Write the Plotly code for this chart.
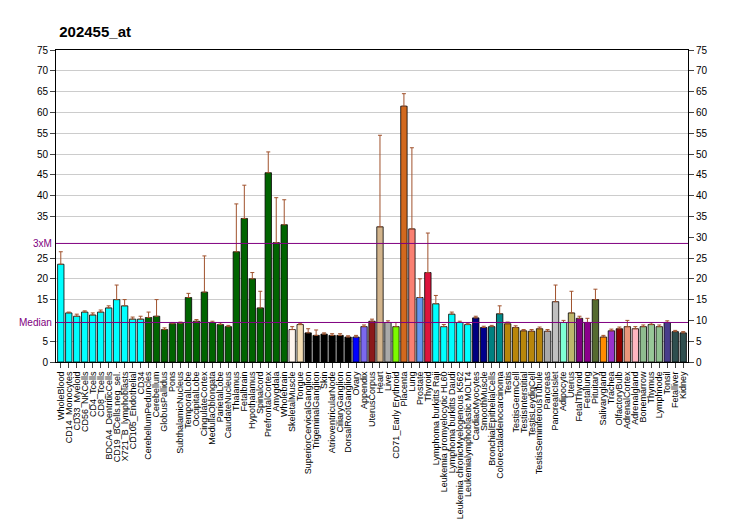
import plotly.graph_objects as go

labels = ["WholeBlood","CD14_Monocytes","CD33_Myeloid","CD56_NKCells","CD4_Tcells","CD8_Tcells",
"BDCA4_DentriticCells","CD19_BCells.neg_sel.","X721_B_lymphoblasts","CD105_Endothelial","CD34",
"CerebellumPeduncles","Cerebellum","GlobusPallidus","Pons","SubthalamicNucleus","TemporalLobe",
"OccipitalLobe","CingulateCortex","MedullaOblongata","ParietalLobe","CaudateNucleus","Thalamus",
"Fetalbrain","Hypothalamus","Spinalcord","PrefrontalCortex","Amygdala","Wholebrain","SkeletalMuscle",
"Tongue","SuperiorCervicalGanglion","TrigeminalGanglion","Skin","AtrioventricularNode","CiliaryGanglion",
"DorsalRootGanglion","Ovary","Appendix","UterusCorpus","Heart","Liver","CD71_Early Erythroid","Placenta",
"Lung","Prostate","Thyroid","Lymphoma burkitts Raji","Leukemia promyelocytic HL60",
"Lymphoma burkitts Daudi","Leukemia chronicMyelogenous K562","Leukemialymphoblastic MOLT4",
"CardiacMyocytes","SmoothMuscle","BronchialEpithelialCells","Colorectaladenocarcinoma","Testis",
"TestisGermCell","TestisInterstitial","TestisLeydigCell","TestisSeminiferousTubule","Pancreas",
"PancreaticIslet","Adipocyte","Uterus","FetalThyroid","Fetallung","Pituitary","Salivarygland","Trachea",
"OlfactoryBulb","AdrenalCortex","Adrenalgland","Bonemarrow","Thymus","Lymphnode","Tonsil","Fetalliver","Kidney"]

values = [23.5,11.8,11,12,11.3,12,13,15,13.5,10.3,10.3,
10.7,11,7.8,9.2,9.3,15.5,9.8,16.8,9.5,9,8.5,26.5,34.5,20,13,45.5,28.7,33,
7.8,9,7,6.4,6.7,6.4,6.4,6,6,8.5,9.8,32.5,9.5,8.5,61.5,32,15.5,21.5,
14,8.5,11.5,9.5,9,10.6,8.3,8.5,11.6,9.2,8.3,7.5,7.4,8,7.4,14.5,9.5,11.8,
10.5,9.5,15,6,7.5,8,8.5,8,8.5,9,8.5,9.5,7.3,7]

err_top = [26.5,12,11.5,12.3,11.8,12.5,13.5,18.5,15,10.8,11,
12,15,8.2,9.5,9.6,16.5,10.2,25.5,9.8,9.4,8.8,38,42.5,21.5,17,50.5,39.5,39,
8.5,9.3,8,7.7,7,6.8,6.8,6.3,6.4,8.9,10.3,54.5,9.9,9.5,64.5,51.5,20,31,
16,9,12,9.8,9.3,11,8.6,8.8,13.5,9.6,8.7,7.8,7.8,8.4,7.8,18.5,10,17,
11,10.5,17.5,6.4,7.9,8.4,10,8.5,8.9,9.4,8.9,9.9,7.6,7.3]

colors = ["#00FFFF"]*11 + ["#006400"]*18 + [
"#FFF5EE","#F5DEB3","#000000","#000000","#000000","#000000","#000000","#000000",
"#0000FF","#7B68EE","#8B1A1A","#D2B48C","#A9A9A9","#7CFC00","#D2691E","#FA8072",
"#6495ED","#DC143C","#00FFFF","#00FFFF","#00FFFF","#00FFFF","#00FFFF",
"#000080","#00008B","#008080","#008B8B","#B8860B","#B8860B","#B8860B","#B8860B","#B8860B",
"#A9A9A9","#C0C0C0","#7FFFD4","#BDB76B","#800080","#8B008B","#556B2F","#FF8C00","#9932CC",
"#8B0000","#E9967A","#FFB6C1","#8FBC8F","#98C898","#90C090","#483D8B","#2F4F4F","#2F4F4F"]

x = list(range(len(labels)))
left_ticks = [v for v in range(0, 80, 5) if v not in (10, 30)]
fig = go.Figure(go.Bar(
    x=x, y=values, marker=dict(color=colors, line=dict(color="black", width=0.8)),
    width=0.8,
    error_y=dict(type="data", symmetric=False,
                 array=[t - v for t, v in zip(err_top, values)],
                 arrayminus=[0]*len(values), color="#A0522D", thickness=1, width=2),
))
fig.add_trace(go.Bar(x=x, y=[None]*len(x), yaxis="y2", showlegend=False))
for yv in [28.5, 9.5]:
    fig.add_shape(type="line", xref="paper", x0=0, x1=1, y0=yv, y1=yv, line=dict(color="#800080", width=1))
fig.add_annotation(text="3xM", xref="paper", x=0, xanchor="right", y=28.5, showarrow=False,
                   font=dict(size=10, color="#800080", family="Arial"), xshift=-2)
fig.add_annotation(text="Median", xref="paper", x=0, xanchor="right", y=9.5, showarrow=False,
                   font=dict(size=10, color="#800080", family="Arial"), xshift=-2)
ax = dict(range=[0, 75], showgrid=True, gridcolor="#cccccc", ticks="outside",
          linecolor="black", showline=True, tickfont=dict(size=10, family="Arial", color="black"))
fig.update_layout(
    width=732, height=530, plot_bgcolor="white", paper_bgcolor="white",
    margin=dict(l=48, r=52, t=42, b=176), showlegend=False, bargap=0.2,
    title=dict(text="<b>202455_at</b>", x=0.07, y=0.965, font=dict(size=15, family="Arial", color="black")),
    xaxis=dict(tickmode="array", tickvals=x, ticktext=labels, tickangle=-90,
               range=[-0.6, len(x) - 0.4], tickfont=dict(size=9, family="Arial", color="black"),
               ticks="outside", showline=True, linecolor="black", mirror=True),
    yaxis=dict(ax, tickmode="array", tickvals=left_ticks),
    yaxis2=dict(ax, overlaying="y", side="right", showgrid=False, dtick=5),
)
fig.write_html("out.html")
